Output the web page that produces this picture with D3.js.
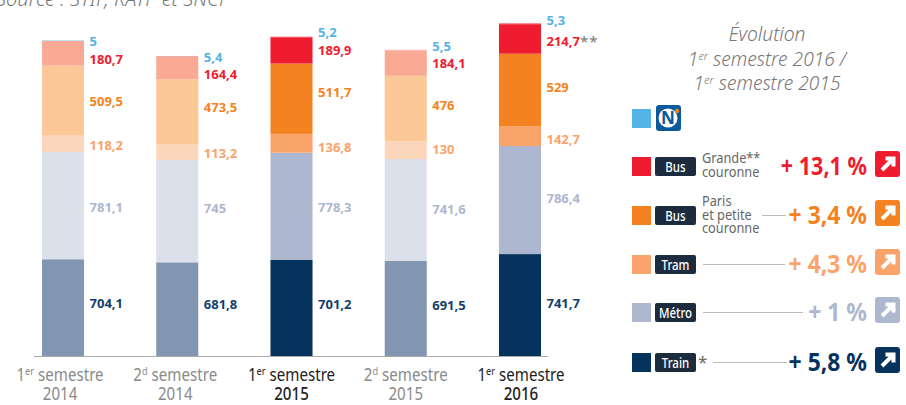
<!DOCTYPE html>
<html>
<head>
<meta charset="utf-8">
<script src="https://cdn.jsdelivr.net/npm/d3@7"></script>
<style>
body { margin: 0; background: #fff; }
text { font-family: "Noto Sans", sans-serif; }
</style>
</head>
<body>
<div id="chart"></div>
<script>
// datos:
const semesters = ["1er semestre", "2d semestre", "1er semestre", "2d semestre", "1er semestre"]
const years = ["2014", "2014", "2015", "2015", "2016"]
const barKeys = ["s1-2014", "s2-2014", "s1-2015", "s2-2015", "s1-2016"]
const highlighted = [false, false, true, false, true]

const seriesNames = ["train", "metro", "tram", "busParis", "busGrande", "noctilien"]
const train = [704.1, 681.8, 701.2, 691.5, 741.7]
const metro = [781.1, 745, 778.3, 741.6, 786.4]
const tram = [118.2, 113.2, 136.8, 130, 142.7]
const busParis = [509.5, 473.5, 511.7, 476, 529]
const busGrande = [180.7, 164.4, 189.9, 184.1, 214.7]
const noctilien = [5, 5.4, 5.2, 5.5, 5.3]
const seriesValues = [train, metro, tram, busParis, busGrande, noctilien]

const legendChips = ["Train", "Métro", "Tram", "Bus", "Bus"]
const legendEvolution = ["+ 5,8 %", "+ 1 %", "+ 4,3 %", "+ 3,4 %", "+ 13,1 %"]

// Constantes:
const width = 906
const height = 405
const strong = ["#06325e", "#adb7cf", "#faa36b", "#f58220", "#ef1c2f", "#56b3e6"]
const faded = ["#8296b2", "#dce0eb", "#fcd6bb", "#fcc898", "#f9a994", "#a9d6f2"]
const labelColors = ["#123f6d", "#adb7cf", "#faa36b", "#f58220", "#ef1c2f", "#56b3e6"]
// the thin noctilien slice only shows blue on the first bar of the original
const noctilienFill = ["#a9d6f2", "#d89a90", "#ef1c2f", "#f9a994", "#ef1c2f"]

// small vertical nudges of the value labels, bar by bar, the original is not centred
const labelNudge = [
    [-4.6, -5, -3, -3, -2],
    [1.5, -3, 1, -1, -2],
    [1.4, 1, 4, -1, 3],
    [0.5, -4.7, -6.6, -3, -3],
    [6, 6, 0, 0, 2],
    [1, 1, -5, -4, -3]
]
// the tick labels are not quite under the bars either
const tickNudge = [-3, -2, 0, 0, 1]
// horizontal squeeze of the percentages, the 1s are narrow in the original font
const evolutionSqueeze = [0.917, 0.917, 0.917, 0.917, 0.863]

let svg = d3.select('div#chart').append('svg').attr('width', width).attr('height', height)
    .style('display', 'block')

// escalas:
let x = d3.scaleBand().domain(barKeys).range([42, 541]).paddingInner(0.632)
let y = d3.scaleLinear().domain([0, 2419.8]).range([356, 23.5])

// stack
const rows = barKeys.map((k, i) => {
    let row = { key: k }
    seriesNames.forEach((s, j) => row[s] = seriesValues[j][i])
    return row
})
const stacked = d3.stack().keys(seriesNames)(rows)

// source, cut by the top of the picture
svg.append('text').attr('x', -4).attr('y', 6)
    .style('font-size', '20px').style('font-style', 'italic').style('font-weight', 300).style('fill', '#777')
    .text('Source : STIF, RATP et SNCF')

// bars
let groups = svg.append('g').attr('id', 'bars').selectAll('g').data(stacked).enter().append('g')
groups.selectAll('rect').data((d, j) => d.map((v, i) => ({ v, i, j }))).enter().append('rect')
    .attr('x', d => x(barKeys[d.i]))
    .attr('width', x.bandwidth())
    .attr('y', d => y(d.v[1]))
    .attr('height', d => y(d.v[0]) - y(d.v[1]))
    .attr('fill', d => d.j == 5 ? noctilienFill[d.i] : (highlighted[d.i] ? strong[d.j] : faded[d.j]))

// value labels
let labels = svg.append('g').attr('id', 'labels')
stacked.forEach((s, j) => {
    s.forEach((v, i) => {
        labels.append('text')
            .attr('x', x(barKeys[i]) + x.bandwidth() + 5.5)
            .attr('y', (y(v[0]) + y(v[1])) / 2 + labelNudge[j][i])
            .attr('dy', '0.35em')
            .style('font-size', '13px').style('font-weight', 700)
            .style('fill', labelColors[j])
            .text(String(seriesValues[j][i]).replace('.', ','))
    })
})
// the ** after 214,7
svg.append('text').attr('x', 580).attr('y', 47).style('font-size', '15px').style('letter-spacing', '1px')
    .style('fill', '#777').text('**')

// axis line
svg.append('line').attr('x1', 34).attr('x2', 548).attr('y1', 356.5).attr('y2', 356.5)
    .attr('stroke', '#aaa').attr('stroke-width', 1)

// axis labels
let ticks = svg.append('g').attr('id', 'ticks').selectAll('g').data(barKeys).enter().append('g')
    .attr('transform', (d, i) => `translate(${x(d) + x.bandwidth() / 2 + tickNudge[i]}, 0) scale(0.84, 1)`)
    .attr('text-anchor', 'middle')
    .style('fill', (d, i) => highlighted[i] ? '#222' : '#8a8a8a')
let tickLine = ticks.append('text').attr('y', 381).style('font-size', '18px')
tickLine.append('tspan').text((d, i) => semesters[i].split(' ')[0].slice(0, 1))
tickLine.append('tspan').attr('dy', -6).style('font-size', '11px').text((d, i) => semesters[i].split(' ')[0].slice(1))
tickLine.append('tspan').attr('dy', 6).text((d, i) => ' ' + semesters[i].split(' ')[1])
ticks.append('text').attr('y', 400).style('font-size', '18px')
    .style('font-weight', (d, i) => highlighted[i] ? 500 : 400)
    .text((d, i) => years[i])

// legend title
let title = svg.append('g').attr('text-anchor', 'middle')
    .style('font-size', '19.2px').style('font-style', 'italic').style('font-weight', 300).style('fill', '#777')
title.append('text').attr('x', 767).attr('y', 41).text('Évolution')
let t1 = title.append('text').attr('x', 767).attr('y', 66)
t1.append('tspan').text('1')
t1.append('tspan').attr('dy', -6).style('font-size', '11px').text('er')
t1.append('tspan').attr('dy', 6).text(' semestre 2016 /')
let t2 = title.append('text').attr('x', 767).attr('y', 90)
t2.append('tspan').text('1')
t2.append('tspan').attr('dy', -6).style('font-size', '11px').text('er')
t2.append('tspan').attr('dy', 6).text(' semestre 2015')

// legend
const rowY = [353, 303, 255, 206, 157]
const lineFrom = [713, 703, 703, 762, 0]
const lineTo = [787, 803, 785, 786, 0]
let legend = svg.append('g').attr('id', 'legend')
legendChips.forEach((chip, j) => {
    let ry = rowY[j]
    legend.append('rect').attr('x', 632).attr('y', ry).attr('width', 19).attr('height', 19).attr('fill', strong[j])
    legend.append('rect').attr('x', 655).attr('y', ry).attr('width', 41).attr('height', 19).attr('rx', 2).attr('fill', '#1c2b3e')
    legend.append('text').attr('transform', `translate(675.5, ${ry + 14.5}) scale(0.85, 1)`).attr('text-anchor', 'middle')
        .style('font-size', '13.5px').style('font-weight', 500).style('fill', '#fff').text(chip)
    if (lineTo[j]) {
        legend.append('line').attr('x1', lineFrom[j]).attr('x2', lineTo[j])
            .attr('y1', ry + 9.5).attr('y2', ry + 9.5).attr('stroke', '#bbb')
    }
    legend.append('text').attr('transform', `translate(867, ${ry + 18}) scale(${evolutionSqueeze[j]}, 1)`).attr('text-anchor', 'end')
        .style('font-size', '25px').style('font-weight', 700).style('fill', strong[j])
        .text(legendEvolution[j])
    // arrow box
    let ab = legend.append('g').attr('transform', `translate(875, ${ry - 6})`)
    ab.append('rect').attr('width', 25).attr('height', 26).attr('rx', 3).attr('fill', strong[j])
    ab.append('path').attr('d', 'M10.5 7.5H18.5V15.5M18.5 7.5L7 19').attr('fill', 'none').attr('stroke', '#fff').attr('stroke-width', 4)
})
// notes beside the chips
let note = (tx, ty, s) => legend.append('text').attr('transform', `translate(${tx}, ${ty}) scale(0.85, 1)`)
    .style('font-size', '15px').style('fill', '#666').text(s)
note(702, 163, 'Grande**')
note(702, 177, 'couronne')
note(702, 206, 'Paris')
note(702, 219.5, 'et petite')
note(702, 233, 'couronne')
legend.append('text').attr('x', 698).attr('y', 368).style('font-size', '17px').style('fill', '#666').text('*')

// noctilien row
legend.append('rect').attr('x', 632).attr('y', 109).attr('width', 19).attr('height', 19).attr('fill', strong[5])
legend.append('rect').attr('x', 656).attr('y', 105).attr('width', 25).attr('height', 26).attr('rx', 3).attr('fill', '#0a5a9c')
legend.append('circle').attr('cx', 668).attr('cy', 118).attr('r', 9.5).attr('fill', '#fff')
legend.append('text').attr('x', 668).attr('y', 124).attr('text-anchor', 'middle')
    .style('font-size', '17px').style('font-weight', 700).style('fill', '#0a5a9c').text('N')
legend.append('circle').attr('cx', 677).attr('cy', 111).attr('r', 2.2).attr('fill', '#f58220')
</script>
</body>
</html>
